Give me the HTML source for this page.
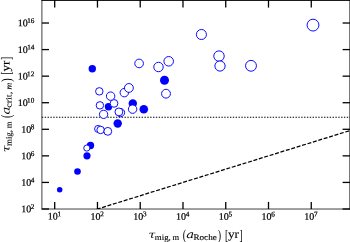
<!DOCTYPE html>
<html><head><meta charset="utf-8"><title>plot</title>
<style>html,body{margin:0;padding:0;background:#fff;overflow:hidden}svg{display:block}text{font-family:"Liberation Serif",serif;fill:#000;text-rendering:geometricPrecision}text.dj{font-family:"DejaVu Serif",serif}</style>
</head><body>
<svg width="350" height="242" viewBox="0 0 350 242">
<rect width="350" height="242" fill="#fff"/>
<defs><clipPath id="c"><rect x="42" y="0" width="308" height="209"/></clipPath></defs>
<line x1="41.85" y1="117.3" x2="350" y2="117.3" stroke="#000" stroke-width="1.1" stroke-dasharray="1.4 1.45"/>
<line clip-path="url(#c)" x1="96.68" y1="209.24" x2="352.00" y2="129.92" stroke="#000" stroke-width="1.25" stroke-dasharray="3.97 1.69"/>
<g stroke="#000" stroke-width="0.75" fill="none">
<line x1="41.9" y1="0" x2="41.9" y2="209.25"/>
<line x1="41.5" y1="209.02" x2="350" y2="209.02"/>
<line x1="349.8" y1="0" x2="349.8" y2="209.25"/>
</g>
<line x1="41.5" y1="0.4" x2="350" y2="0.4" stroke="#000" stroke-width="1"/>
<g stroke="#000" stroke-width="1.3">
<line x1="54.70" y1="209" x2="54.70" y2="201.9"/>
<line x1="54.70" y1="0" x2="54.70" y2="7.6"/>
<line x1="97.46" y1="209" x2="97.46" y2="201.9"/>
<line x1="97.46" y1="0" x2="97.46" y2="7.6"/>
<line x1="140.22" y1="209" x2="140.22" y2="201.9"/>
<line x1="140.22" y1="0" x2="140.22" y2="7.6"/>
<line x1="182.98" y1="209" x2="182.98" y2="201.9"/>
<line x1="182.98" y1="0" x2="182.98" y2="7.6"/>
<line x1="225.74" y1="209" x2="225.74" y2="201.9"/>
<line x1="225.74" y1="0" x2="225.74" y2="7.6"/>
<line x1="268.50" y1="209" x2="268.50" y2="201.9"/>
<line x1="268.50" y1="0" x2="268.50" y2="7.6"/>
<line x1="311.26" y1="209" x2="311.26" y2="201.9"/>
<line x1="311.26" y1="0" x2="311.26" y2="7.6"/>
<line x1="42" y1="209.00" x2="49" y2="209.00"/>
<line x1="350" y1="209.00" x2="342.6" y2="209.00"/>
<line x1="42" y1="182.43" x2="49" y2="182.43"/>
<line x1="350" y1="182.43" x2="342.6" y2="182.43"/>
<line x1="42" y1="155.86" x2="49" y2="155.86"/>
<line x1="350" y1="155.86" x2="342.6" y2="155.86"/>
<line x1="42" y1="129.29" x2="49" y2="129.29"/>
<line x1="350" y1="129.29" x2="342.6" y2="129.29"/>
<line x1="42" y1="102.72" x2="49" y2="102.72"/>
<line x1="350" y1="102.72" x2="342.6" y2="102.72"/>
<line x1="42" y1="76.15" x2="49" y2="76.15"/>
<line x1="350" y1="76.15" x2="342.6" y2="76.15"/>
<line x1="42" y1="49.58" x2="49" y2="49.58"/>
<line x1="350" y1="49.58" x2="342.6" y2="49.58"/>
<line x1="42" y1="23.01" x2="49" y2="23.01"/>
<line x1="350" y1="23.01" x2="342.6" y2="23.01"/>
</g>
<g transform="rotate(0.04 175 121)" stroke="#000" stroke-width="0.22">
<text x="31.30" y="212.45" text-anchor="end" font-size="10">10</text><text x="30.70" y="209.15" font-size="7.2">2</text>
<text x="31.30" y="185.88" text-anchor="end" font-size="10">10</text><text x="30.70" y="182.58" font-size="7.2">4</text>
<text x="31.30" y="159.31" text-anchor="end" font-size="10">10</text><text x="30.70" y="156.01" font-size="7.2">6</text>
<text x="31.30" y="132.74" text-anchor="end" font-size="10">10</text><text x="30.70" y="129.44" font-size="7.2">8</text>
<text x="27.70" y="106.17" text-anchor="end" font-size="10">10</text><text x="27.10" y="102.87" font-size="7.2">10</text>
<text x="27.70" y="79.60" text-anchor="end" font-size="10">10</text><text x="27.10" y="76.30" font-size="7.2">12</text>
<text x="27.70" y="53.03" text-anchor="end" font-size="10">10</text><text x="27.10" y="49.73" font-size="7.2">14</text>
<text x="27.70" y="26.46" text-anchor="end" font-size="10">10</text><text x="27.10" y="23.16" font-size="7.2">16</text>
<text x="47.80" y="219.7" font-size="10">10</text><text x="57.60" y="216.4" font-size="7.2">1</text>
<text x="90.56" y="219.7" font-size="10">10</text><text x="100.36" y="216.4" font-size="7.2">2</text>
<text x="133.32" y="219.7" font-size="10">10</text><text x="143.12" y="216.4" font-size="7.2">3</text>
<text x="176.08" y="219.7" font-size="10">10</text><text x="185.88" y="216.4" font-size="7.2">4</text>
<text x="218.84" y="219.7" font-size="10">10</text><text x="228.64" y="216.4" font-size="7.2">5</text>
<text x="261.60" y="219.7" font-size="10">10</text><text x="271.40" y="216.4" font-size="7.2">6</text>
<text x="304.36" y="219.7" font-size="10">10</text><text x="314.16" y="216.4" font-size="7.2">7</text>
</g>
<circle cx="59.7" cy="189.7" r="2.75" fill="#0000ff"/>
<circle cx="77.5" cy="171.45" r="3.3" fill="#0000ff"/>
<circle cx="87" cy="155.8" r="3.6" fill="#0000ff"/>
<circle cx="90.5" cy="145.5" r="3.7" fill="#0000ff"/>
<circle cx="86.8" cy="148.05" r="3.075" fill="#fff" stroke="#0000ff" stroke-width="0.95"/>
<circle cx="92.3" cy="68.8" r="3.7" fill="#0000ff"/>
<circle cx="99.3" cy="91.35" r="3.725" fill="#fff" stroke="#0000ff" stroke-width="0.95"/>
<circle cx="99.9" cy="105.35" r="3.725" fill="#fff" stroke="#0000ff" stroke-width="0.95"/>
<circle cx="108.5" cy="106.8" r="3.7" fill="#0000ff"/>
<circle cx="114" cy="103.4" r="3.875" fill="#fff" stroke="#0000ff" stroke-width="0.95"/>
<circle cx="110.6" cy="96.15" r="4.225" fill="#fff" stroke="#0000ff" stroke-width="0.95"/>
<circle cx="103.6" cy="114.35" r="4.125" fill="#fff" stroke="#0000ff" stroke-width="0.95"/>
<circle cx="120.5" cy="112.6" r="4.125" fill="#fff" stroke="#0000ff" stroke-width="0.95"/>
<circle cx="118.9" cy="111.9" r="3.925" fill="#fff" stroke="#0000ff" stroke-width="0.95"/>
<circle cx="124.3" cy="92.65" r="4.225" fill="#fff" stroke="#0000ff" stroke-width="0.95"/>
<circle cx="128.9" cy="87.95" r="4.425" fill="#fff" stroke="#0000ff" stroke-width="0.95"/>
<circle cx="132.8" cy="103.5" r="4.2" fill="#0000ff"/>
<circle cx="132.6" cy="109.15" r="4.225" fill="#fff" stroke="#0000ff" stroke-width="0.95"/>
<circle cx="143.8" cy="109.2" r="4.3" fill="#0000ff"/>
<circle cx="117.7" cy="123.5" r="4.2" fill="#0000ff"/>
<circle cx="98.1" cy="128.95" r="3.525" fill="#fff" stroke="#0000ff" stroke-width="0.95"/>
<circle cx="100.6" cy="129.95" r="3.725" fill="#fff" stroke="#0000ff" stroke-width="0.95"/>
<circle cx="107.8" cy="131.35" r="3.925" fill="#fff" stroke="#0000ff" stroke-width="0.95"/>
<circle cx="139.1" cy="63.45" r="4.325" fill="#fff" stroke="#0000ff" stroke-width="0.95"/>
<circle cx="158.5" cy="67" r="4.725" fill="#fff" stroke="#0000ff" stroke-width="0.95"/>
<circle cx="168.7" cy="61.3" r="4.775" fill="#fff" stroke="#0000ff" stroke-width="0.95"/>
<circle cx="164.5" cy="80.3" r="4.5" fill="#0000ff"/>
<circle cx="166" cy="93.7" r="4.425" fill="#fff" stroke="#0000ff" stroke-width="0.95"/>
<circle cx="201.4" cy="34.5" r="5.025" fill="#fff" stroke="#0000ff" stroke-width="0.95"/>
<circle cx="219" cy="56.1" r="5.225" fill="#fff" stroke="#0000ff" stroke-width="0.95"/>
<circle cx="220" cy="66" r="5.125" fill="#fff" stroke="#0000ff" stroke-width="0.95"/>
<circle cx="251" cy="65.8" r="5.425" fill="#fff" stroke="#0000ff" stroke-width="0.95"/>
<circle cx="313" cy="25.1" r="5.925" fill="#fff" stroke="#0000ff" stroke-width="0.95"/>
<g transform="translate(149,238) rotate(0.04)">
<text class="dj" transform="translate(-0.5,0) scale(1.2,1)" font-size="10.3" font-style="italic">τ</text>
<text transform="translate(5.8,2) scale(1,1)" font-size="8.3" stroke="#000" stroke-width="0.12" textLength="16" lengthAdjust="spacingAndGlyphs">mig,</text>
<text transform="translate(23.6,2) scale(1,1)" font-size="8.3" stroke="#000" stroke-width="0.12" textLength="6.6" lengthAdjust="spacingAndGlyphs">m</text>
<text transform="translate(33.8,1.6) scale(0.7,1)" font-size="14.5">(</text>
<text class="dj" transform="translate(37.3,0) scale(1.25,1)" font-size="10.6" font-style="italic">a</text>
<text transform="translate(44.4,2) scale(1,1)" font-size="8.3" stroke="#000" stroke-width="0.12" textLength="23.4" lengthAdjust="spacingAndGlyphs">Roche</text>
<text transform="translate(68.7,1.6) scale(0.7,1)" font-size="14.5">)</text>
<text transform="translate(76,1.6) scale(0.65,1)" font-size="14.5">[</text>
<text transform="translate(79,0) scale(1.1,1)" font-size="12" stroke="#000" stroke-width="0.12">yr</text>
<text transform="translate(90.4,1.6) scale(0.65,1)" font-size="14.5">]</text>
</g>
<g transform="translate(9.5,151.8) rotate(-89.96)">
<text class="dj" transform="translate(-0.5,0) scale(1.2,1)" font-size="10.3" font-style="italic">τ</text>
<text transform="translate(5.8,2) scale(1,1)" font-size="8.3" stroke="#000" stroke-width="0.12" textLength="16" lengthAdjust="spacingAndGlyphs">mig,</text>
<text transform="translate(23.6,2) scale(1,1)" font-size="8.3" stroke="#000" stroke-width="0.12" textLength="6.6" lengthAdjust="spacingAndGlyphs">m</text>
<text transform="translate(33.8,1.6) scale(0.7,1)" font-size="14.5">(</text>
<text class="dj" transform="translate(37.3,0) scale(1.25,1)" font-size="10.6" font-style="italic">a</text>
<text transform="translate(44,2) scale(1,1)" font-size="8.3" stroke="#000" stroke-width="0.12" textLength="16" lengthAdjust="spacingAndGlyphs">crit,</text>
<text transform="translate(62.3,2) scale(1,1)" font-size="8.3" stroke="#000" stroke-width="0.12" font-style="italic" textLength="6.8" lengthAdjust="spacingAndGlyphs">m</text>
<text transform="translate(70,1.6) scale(0.7,1)" font-size="14.5">)</text>
<text transform="translate(77.3,1.6) scale(0.65,1)" font-size="14.5">[</text>
<text transform="translate(80.3,0) scale(1.1,1)" font-size="12" stroke="#000" stroke-width="0.12">yr</text>
<text transform="translate(91.7,1.6) scale(0.65,1)" font-size="14.5">]</text>
</g>
</svg></body></html>
